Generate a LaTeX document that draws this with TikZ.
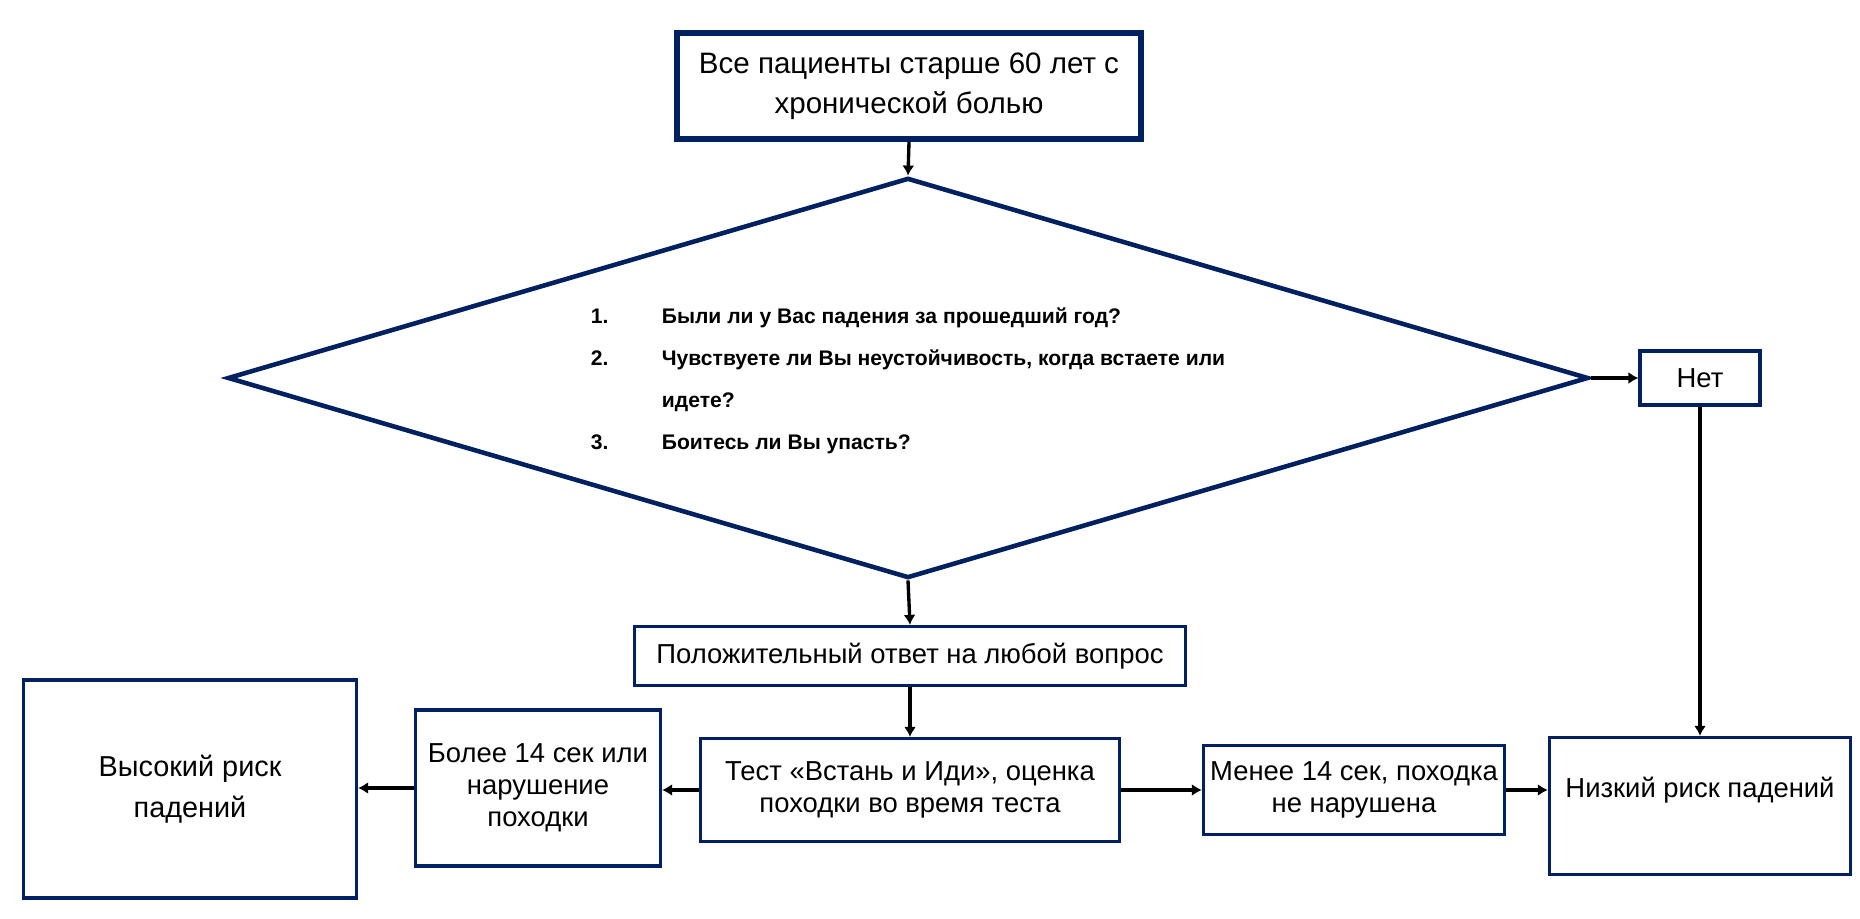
\documentclass[tikz,border=0pt]{standalone}
\usepackage{fontspec}
\setmainfont{Liberation Sans}
\usetikzlibrary{shapes.geometric,arrows.meta}
\definecolor{navyblue}{RGB}{0,32,96}

\begin{document}
\begin{tikzpicture}[x=0.01cm,y=-0.01cm,
  box/.style={draw=navyblue,line width=0.9pt,align=center,inner sep=0pt,font=\fontsize{7.8}{9.1}\selectfont},
  link/.style={-{Latex[length=1mm,width=1.2mm]},line width=0.95pt}]
\useasboundingbox (0,0) rectangle (1860,919);

% Start
\node[box,line width=1.7pt,minimum width=4.64cm,minimum height=1.06cm,font=\fontsize{8.4}{11.5}\selectfont] (start) at (909,86) {Все пациенты старше 60 лет с\\хронической болью};

% Screening questions
\node[draw=navyblue,line width=1.3pt,diamond,aspect=3.4,minimum width=13.6cm,minimum height=4cm,inner sep=0pt,font=\fontsize{6}{12}\bfseries] (quest) at (908,378) {\begin{tabular}{@{}p{0.71cm}@{}l@{}}
1. & Были ли у Вас падения за прошедший год?\\
2. & Чувствуете ли Вы неустойчивость, когда встаете или\\
   & идете?\\
3. & Боитесь ли Вы упасть?
\end{tabular}};

% Answers
\node[box,minimum width=1.2cm,minimum height=0.54cm] (no) at (1700,378) {Нет};
\node[box,minimum width=5.5cm,minimum height=0.59cm] (yes) at (910,656) {Положительный ответ на любой вопрос};

% Timed Up and Go
\node[box,minimum width=4.19cm,minimum height=1.03cm] (tug) at (910,790) {Тест «Встань и Иди», оценка\\походки во время теста};
\node[box,minimum width=2.45cm,minimum height=1.56cm] (slow) at (538,788) {Более 14 сек или\\нарушение\\походки};
\node[box,minimum width=3.33cm,minimum height=2.18cm,font=\fontsize{8.2}{11.5}\selectfont] (high) at (190,789) {Высокий риск\\падений};
\node[box,minimum width=3.01cm,minimum height=0.89cm] (fast) at (1354,790) {Менее 14 сек, походка\\не нарушена};
\node[box,minimum width=3.01cm,minimum height=1.37cm,text height=0.3cm,text depth=0.46cm] (low) at (1700,806) {Низкий риск падений};

% Connectors
\draw[link] (start.south) -- (quest.north);
\draw[link] (quest.south) -- (yes.north);
\draw[link] (yes.south) -- (tug.north);
\draw[link] (quest.east) -- (no.west);
\draw[link] (no.south) -- (low.north);
\draw[link] (tug.west) -- (tug.west -| slow.east);
\draw[link] (slow.west) -- (slow.west -| high.east);
\draw[link] (tug.east) -- (fast.west);
\draw[link] (fast.east) -- (fast.east -| low.west);
\end{tikzpicture}
\end{document}
